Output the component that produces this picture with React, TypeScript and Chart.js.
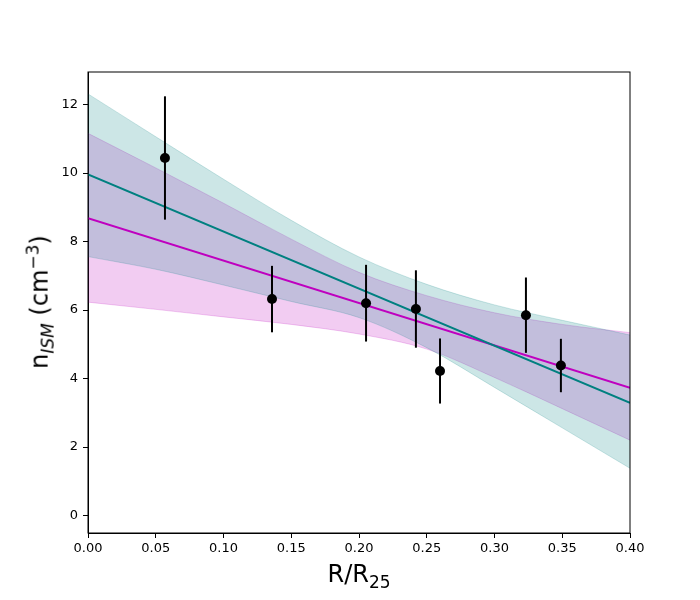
import React, { useEffect, useRef } from "react";
import { Chart, registerables } from "chart.js";

Chart.register(...registerables);

// radius grid for the fit bands
const gridX = [0, 0.05, 0.1, 0.15, 0.2, 0.25, 0.3, 0.35, 0.4];
const tealUpper = [12.31, 11.06, 9.82, 8.62, 7.55, 6.75, 6.15, 5.7, 5.27];
const tealLower = [7.56, 7.19, 6.73, 6.25, 5.78, 4.9, 3.74, 2.56, 1.38];
const magentaUpper = [11.16, 10.15, 9.12, 8.07, 7.1, 6.42, 5.92, 5.58, 5.34];
const magentaLower = [6.23, 6.02, 5.8, 5.58, 5.3, 4.86, 4.03, 3.12, 2.2];

// best-fit lines (end points)
const lineX = [0, 0.4];
const tealFit = [9.96, 3.29];
const magentaFit = [8.68, 3.73];

// measurements
const obsX = [0.0568, 0.1358, 0.2052, 0.242, 0.2598, 0.3232, 0.349];
const obsY = [10.44, 6.32, 6.2, 6.03, 4.22, 5.85, 4.38];
const obsErr = [1.8, 0.97, 1.12, 1.13, 0.95, 1.1, 0.78];

const xTicks = ["0.00", "0.05", "0.10", "0.15", "0.20", "0.25", "0.30", "0.35", "0.40"];

const TEAL = "#008080";
const MAGENTA = "#bf00bf";

const pts = (xs: number[], ys: number[]) => xs.map((x, i) => ({ x, y: ys[i] }));

const errorBars = {
  id: "errorBars",
  afterDatasetsDraw(chart: any) {
    const { ctx } = chart;
    const xs = chart.scales.x;
    const ys = chart.scales.y;
    ctx.save();
    ctx.strokeStyle = "black";
    ctx.lineWidth = 2;
    obsX.forEach((x, i) => {
      const px = xs.getPixelForValue(x);
      ctx.beginPath();
      ctx.moveTo(px, ys.getPixelForValue(obsY[i] + obsErr[i]));
      ctx.lineTo(px, ys.getPixelForValue(obsY[i] - obsErr[i]));
      ctx.stroke();
    });
    // markers on top of the bars
    ctx.fillStyle = "black";
    obsX.forEach((x, i) => {
      ctx.beginPath();
      ctx.arc(xs.getPixelForValue(x), ys.getPixelForValue(obsY[i]), 5, 0, Math.PI * 2);
      ctx.fill();
    });
    ctx.restore();
  },
  afterDraw(chart: any) {
    const { ctx, chartArea } = chart;
    ctx.save();
    ctx.strokeStyle = "black";
    ctx.lineWidth = 1;
    ctx.strokeRect(chartArea.left, chartArea.top, chartArea.right - chartArea.left, chartArea.bottom - chartArea.top);
    ctx.restore();
  },
};

// higher order is drawn first (underneath)
const band = (data: number[], color: string, fill: any, order: number) => ({
  data: pts(gridX, data),
  showLine: true,
  pointRadius: 0,
  borderWidth: 1,
  borderColor: color,
  backgroundColor: color,
  cubicInterpolationMode: "monotone" as const,
  fill,
  order,
});

const App: React.FC = () => {
  const chartRef = useRef<HTMLCanvasElement>(null);

  useEffect(() => {
    document.body.style.margin = "0";
    let chart: Chart | null = null;
    if (chartRef.current) {
      chart = new Chart(chartRef.current, {
        type: "scatter",
        data: {
          datasets: [
            band(magentaLower, "rgba(191,0,191,0.2)", false, 11),
            band(magentaUpper, "rgba(191,0,191,0.2)", "-1", 10),
            band(tealLower, "rgba(0,128,128,0.2)", false, 9),
            band(tealUpper, "rgba(0,128,128,0.2)", "-1", 8),
            {
              data: pts(lineX, magentaFit),
              showLine: true,
              pointRadius: 0,
              borderColor: MAGENTA,
              borderWidth: 2,
              order: 2,
            },
            {
              data: pts(lineX, tealFit),
              showLine: true,
              pointRadius: 0,
              borderColor: TEAL,
              borderWidth: 2,
              order: 1,
            },
            {
              data: pts(obsX, obsY),
              pointRadius: 0,
              backgroundColor: "black",
              order: 0,
            },
          ] as any,
        },
        options: {
          animation: false,
          responsive: false,
          layout: { padding: { left: 0, top: 72, right: 70, bottom: 0 } },
          plugins: { legend: { display: false }, tooltip: { enabled: false } },
          scales: {
            x: {
              type: "linear",
              min: 0,
              max: 0.4,
              afterFit: (s: any) => {
                s.height = 67;
              },
              border: { display: true, color: "black", width: 1 },
              grid: { drawOnChartArea: false, drawTicks: true, tickLength: 5, color: "black" },
              ticks: {
                stepSize: 0.05,
                includeBounds: false,
                padding: 3,
                color: "black",
                font: { family: "DejaVu Sans", size: 13 },
                callback: (_v: any, i: number) => xTicks[i],
                maxRotation: 0,
              },
            },
            y: {
              type: "linear",
              min: -0.51,
              max: 12.95,
              afterFit: (s: any) => {
                s.width = 88;
              },
              border: { display: true, color: "black", width: 1 },
              grid: { drawOnChartArea: false, drawTicks: true, tickLength: 5, color: "black" },
              ticks: {
                stepSize: 2,
                includeBounds: false,
                padding: 5,
                color: "black",
                font: { family: "DejaVu Sans", size: 13 },
              },
            },
          },
        },
        plugins: [errorBars],
      });
    }
    return () => {
      if (chart) chart.destroy();
    };
  }, []);

  const labelFont = { fontFamily: "'DejaVu Sans', sans-serif", fontSize: 24, color: "black", whiteSpace: "nowrap" as const };

  return (
    <div style={{ position: "relative", width: 700, height: 600, background: "white" }}>
      <canvas ref={chartRef} width={700} height={600} style={{ width: 700, height: 600, display: "block" }} />
      <div style={{ ...labelFont, position: "absolute", left: 359, top: 576, transform: "translate(-50%, -50%)" }}>
        R/R<sub style={{ fontSize: 17 }}>25</sub>
      </div>
      <div
        style={{
          ...labelFont,
          position: "absolute",
          left: 40,
          top: 302,
          transform: "translate(-50%, -50%) rotate(-90deg)",
        }}
      >
        n<sub style={{ fontSize: 17, fontStyle: "italic" }}>ISM</sub> (cm<sup style={{ fontSize: 17 }}>−3</sup>)
      </div>
    </div>
  );
};

export default App;
